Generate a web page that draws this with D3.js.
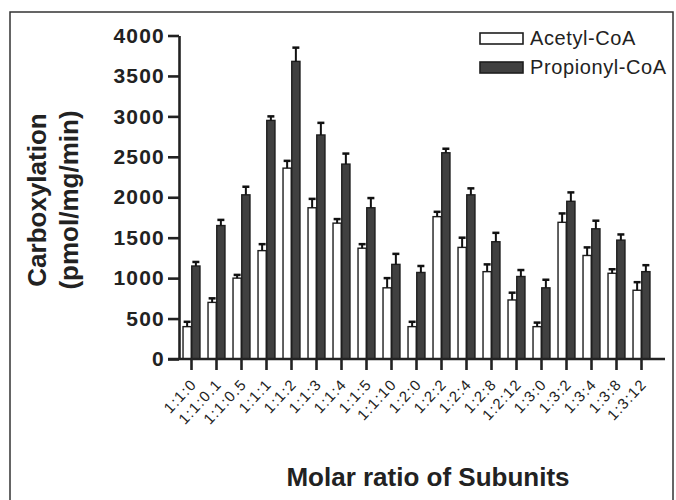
<!DOCTYPE html>
<html>
<head>
<meta charset="utf-8">
<script src="https://cdn.jsdelivr.net/npm/d3@7"></script>
<style>
  body { margin: 0; background: #fff; }
  text { font-family: "Liberation Sans", Arial, sans-serif; fill: #222; }
</style>
</head>
<body>
<div class="chart"></div>
<script>
// Values
const ratios = ["1:1:0", "1:1:0.1", "1:1:0.5", "1:1:1", "1:1:2", "1:1:3", "1:1:4", "1:1:5", "1:1:10",
    "1:2:0", "1:2:2", "1:2:4", "1:2:8", "1:2:12", "1:3:0", "1:3:2", "1:3:4", "1:3:8", "1:3:12"];
const seriesNames = ["Acetyl-CoA", "Propionyl-CoA"];
const acetyl = [400, 700, 1000, 1340, 2360, 1870, 1680, 1370, 880, 400, 1760, 1380, 1080, 730, 400, 1690, 1280, 1060, 850];
const acetylErr = [60, 50, 40, 80, 90, 110, 50, 50, 120, 60, 60, 120, 90, 90, 50, 110, 100, 50, 100];
const propionyl = [1150, 1650, 2030, 2950, 3680, 2770, 2410, 1870, 1170, 1070, 2550, 2030, 1450, 1020, 880, 1950, 1610, 1470, 1080];
const propionylErr = [50, 70, 100, 50, 170, 150, 130, 120, 130, 80, 50, 80, 110, 80, 100, 110, 100, 70, 80];
const yTicks = [0, 500, 1000, 1500, 2000, 2500, 3000, 3500, 4000];

const width = 676, height = 500;
const fills = ["#ffffff", "#404040"];

const rows = ratios.map((r, i) => ({
    ratio: r,
    values: [
        { key: seriesNames[0], value: acetyl[i], err: acetylErr[i] },
        { key: seriesNames[1], value: propionyl[i], err: propionylErr[i] }
    ]
}));

const svg = d3.select(".chart")
    .append("svg")
    .attr("width", width)
    .attr("height", height);

// outer frame
svg.append("rect")
    .attr("x", 10).attr("y", 12)
    .attr("width", 663).attr("height", 520)
    .attr("fill", "none")
    .attr("stroke", "#333")
    .attr("stroke-width", 1.5);

const x0 = d3.scaleBand()
    .domain(ratios)
    .range([179, 654])
    .paddingInner(0.28)
    .paddingOuter(0.14);

const x1 = d3.scaleBand()
    .domain(seriesNames)
    .range([0, x0.bandwidth()])
    .padding(0.06);

const y = d3.scaleLinear()
    .domain([0, 4000])
    .range([359, 35.5]);

const plot = svg.append("g");

const groups = plot.selectAll("g.group")
    .data(rows)
    .enter()
    .append("g")
    .attr("class", "group")
    .attr("transform", d => "translate(" + x0(d.ratio) + ",0)");

groups.selectAll("rect")
    .data(d => d.values)
    .enter()
    .append("rect")
    .attr("x", d => x1(d.key))
    .attr("y", d => y(d.value))
    .attr("width", x1.bandwidth())
    .attr("height", d => y(0) - y(d.value))
    .attr("fill", (d, i) => fills[i])
    .attr("stroke", "#1e1e1e")
    .attr("stroke-width", 1.4);

// error bars (upper only)
const errs = groups.selectAll("g.err")
    .data(d => d.values)
    .enter()
    .append("g")
    .attr("class", "err");

errs.append("line")
    .attr("x1", d => x1(d.key) + x1.bandwidth() / 2)
    .attr("x2", d => x1(d.key) + x1.bandwidth() / 2)
    .attr("y1", d => y(d.value))
    .attr("y2", d => y(d.value + d.err))
    .attr("stroke", "#111")
    .attr("stroke-width", 2);

errs.append("line")
    .attr("x1", d => x1(d.key) + x1.bandwidth() / 2 - 3.5)
    .attr("x2", d => x1(d.key) + x1.bandwidth() / 2 + 3.5)
    .attr("y1", d => y(d.value + d.err))
    .attr("y2", d => y(d.value + d.err))
    .attr("stroke", "#111")
    .attr("stroke-width", 2.5);

// y axis
const yAxis = svg.append("g")
    .attr("transform", "translate(179,0)")
    .call(d3.axisLeft(y).tickValues(yTicks).tickFormat(d3.format("d"))
        .tickSize(11).tickSizeOuter(0).tickPadding(3));
yAxis.select(".domain").attr("stroke", "#222").attr("stroke-width", 2.6);
yAxis.selectAll(".tick line").attr("stroke", "#222").attr("stroke-width", 2.6);
yAxis.selectAll(".tick text")
    .style("font-family", "'Liberation Sans', Arial, sans-serif")
    .style("font-size", "21px")
    .style("font-weight", "bold")
    .style("letter-spacing", "1.2px")
    .attr("fill", "#222");

// x axis
const xAxis = svg.append("g")
    .attr("transform", "translate(0,359)")
    .call(d3.axisBottom(x0).tickSize(11).tickSizeOuter(0).tickPadding(4));
xAxis.select(".domain").remove();
xAxis.append("line")
    .attr("x1", 168).attr("x2", 665)
    .attr("y1", 0).attr("y2", 0)
    .attr("stroke", "#222")
    .attr("stroke-width", 2.6);
xAxis.selectAll(".tick line").attr("stroke", "#222").attr("stroke-width", 2.6);
xAxis.selectAll(".tick text")
    .style("font-family", "'Liberation Sans', Arial, sans-serif")
    .style("font-size", "15px")
    .style("letter-spacing", "1.3px")
    .attr("fill", "#333")
    .attr("text-anchor", "end")
    .attr("dy", null)
    .attr("y", 0)
    .attr("transform", "translate(6,26) rotate(-47)");

// axis titles
svg.append("text")
    .attr("transform", "translate(46,200) rotate(-90)")
    .attr("text-anchor", "middle")
    .style("font-size", "26px")
    .style("font-weight", "bold")
    .text("Carboxylation");

svg.append("text")
    .attr("transform", "translate(78,200) rotate(-90)")
    .attr("text-anchor", "middle")
    .style("font-size", "26px")
    .style("font-weight", "bold")
    .text("(pmol/mg/min)");

svg.append("text")
    .attr("x", 428)
    .attr("y", 486)
    .attr("text-anchor", "middle")
    .style("font-size", "26px")
    .style("font-weight", "bold")
    .text("Molar ratio of Subunits");

// legend
const legend = svg.append("g")
    .attr("class", "legend")
    .attr("transform", "translate(480,33)");

const legendItems = legend.selectAll("g")
    .data(seriesNames)
    .enter()
    .append("g")
    .attr("transform", (d, i) => "translate(0," + i * 29 + ")");

legendItems.append("rect")
    .attr("width", 43)
    .attr("height", 11)
    .attr("fill", (d, i) => fills[i])
    .attr("stroke", "#1e1e1e")
    .attr("stroke-width", 1.6);

legendItems.append("text")
    .attr("x", 50)
    .attr("y", 12)
    .style("font-size", "20px")
    .style("letter-spacing", "0.6px")
    .text(d => d);
</script>
</body>
</html>
